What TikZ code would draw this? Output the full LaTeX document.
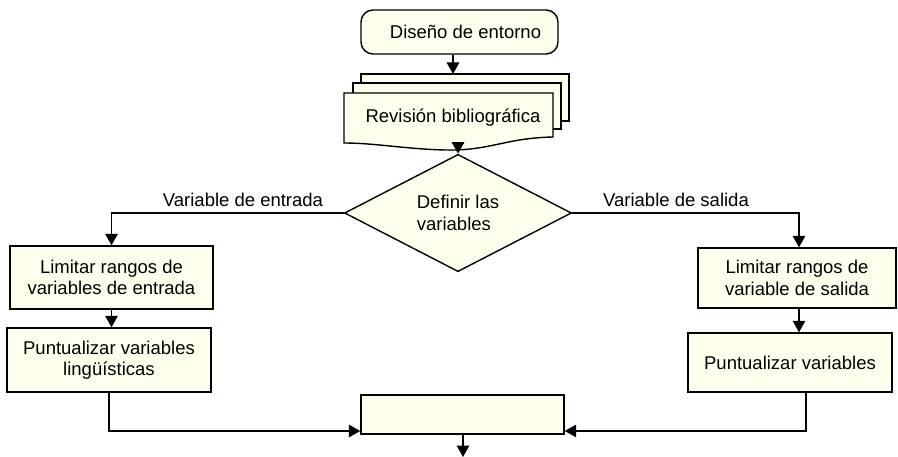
\documentclass[tikz,border=0pt]{standalone}
\usepackage{fontspec}
\setmainfont{Liberation Sans}
\usetikzlibrary{shapes.geometric,arrows.meta}
\definecolor{cream}{RGB}{255,255,238}
\begin{document}
\begin{tikzpicture}[x=1pt,y=-1pt,
  font=\fontsize{18.5}{21.5}\selectfont,
  box/.style={draw=black,line width=1.4pt,fill=cream,inner sep=0pt},
  rbox/.style={box,rectangle,align=center},
  arr/.style={draw=black,line width=1.4pt,-{Triangle[length=11.5pt,width=12.5pt]}},
  ln/.style={draw=black,line width=1.4pt}]
\useasboundingbox (0,0) rectangle (898,457);

% top node
\node[box,rounded corners=12pt,minimum width=197pt,minimum height=44pt] (top) at (459.5,32) {\hspace*{12pt}Diseño de entorno};

% document stack
\node[box,minimum width=208pt,minimum height=47pt] (doc3) at (465,97.5) {};
\node[box,minimum width=208pt,minimum height=46pt] (doc2) at (457,106) {};
\draw[box] (344,93) -- (553,93) -- (553,137)
  .. controls (505,138) and (490,151) .. (445,150)
  .. controls (405,149) and (375,143) .. (344,143) -- cycle;
\node (doc) at (453,118) {Revisión bibliográfica};
\coordinate (d1) at (453,74);
\coordinate (docb) at (458,149);

% diamond
\node[box,diamond,minimum width=227pt,minimum height=112pt,align=left] (dia) at (458,213) {Definir las\\variables};

% left branch
\node[rbox,minimum width=203pt,minimum height=63pt] (lb1) at (111.5,277.5) {Limitar rangos de\\variables de entrada};
\node[rbox,minimum width=204pt,minimum height=64pt] (lb2) at (109,360) {Puntualizar variables\\lingüísticas};

% right branch
\node[rbox,minimum width=198pt,minimum height=60pt] (rb1) at (797,278) {Limitar rangos de\\variable de salida};
\node[rbox,minimum width=204pt,minimum height=59pt] (rb2) at (790,362.5) {Puntualizar variables};

% center box
\node[rbox,minimum width=203pt,minimum height=39pt] (cb) at (462.5,414.5) {};
\coordinate (out) at (463,457);

% labels
\node (lin) at (243,200) {Variable de entrada};
\node (lout) at (676,200) {Variable de salida};

% connectors
\draw[arr] (top.south -| d1) -- (d1);
\draw[arr] (docb) -- (dia.north);
\draw[arr] (dia.west) -| (lb1.north);
\draw[arr] (dia.east) -| ([xshift=2pt]rb1.north);
\draw[arr] (lb1.south) -- (lb1.south |- lb2.north);
\draw[arr] ([xshift=2pt]rb1.south) -- ([xshift=2pt]rb1.south |- rb2.north);
\draw[arr] (lb2.south) |- ([yshift=-16.5pt]cb.west);
\draw[arr] ([xshift=16pt]rb2.south) |- ([yshift=-16.5pt]cb.east);
\draw[arr] (cb.south -| out) -- (out);
\end{tikzpicture}
\end{document}
